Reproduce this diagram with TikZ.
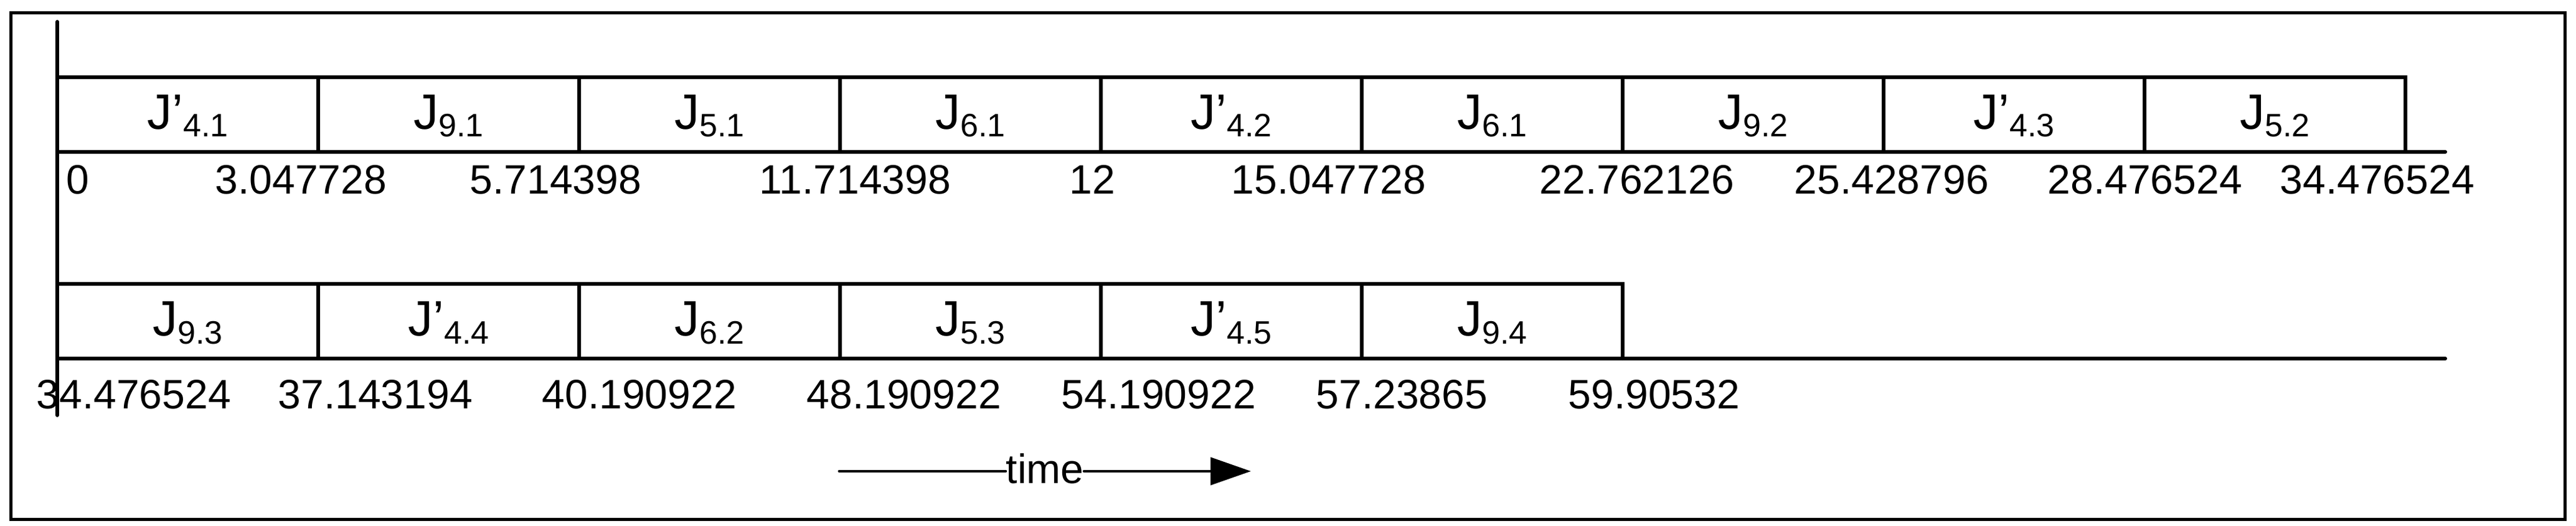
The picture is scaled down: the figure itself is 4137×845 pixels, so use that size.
\documentclass[tikz,border=0pt]{standalone}
\usepackage{fontspec}
\setmainfont{Liberation Sans}
\usetikzlibrary{arrows.meta}
\newcommand\sbx[1]{\raisebox{-3pt}{\fontsize{13pt}{13pt}\selectfont #1}}
\begin{document}
\begin{tikzpicture}[x=0.25pt,y=-0.25pt, line cap=round,
  gline/.style={line width=1.5pt},
  frameline/.style={line width=1.25pt},
  arrline/.style={line width=1.2pt},
  joblab/.style={anchor=base, inner sep=0pt, font=\fontsize{20pt}{24pt}\selectfont},
  numlab/.style={anchor=base west, inner sep=0pt, font=\fontsize{16.5pt}{20pt}\selectfont}]
\useasboundingbox (0,0) rectangle (4137,845);
% outer frame
\draw[frameline, line cap=butt] (17,21) rectangle (4119,834);
% vertical axis
\coordinate (axT) at (92,35);
\coordinate (axB) at (92,667);
\draw[gline] (axT) -- (axB);
% row 1
\draw[gline] (92,124) -- (3863,124) -- (3863,244);
\draw[gline] (92,244) -- (3927,244);
\foreach \k in {1,...,8} \draw[gline] ({92+419*\k},124) -- ({92+419*\k},244);
% row 2
\draw[gline] (92,456) -- (2606,456) -- (2606,576);
\draw[gline] (92,576) -- (3927,576);
\foreach \k in {1,...,5} \draw[gline] ({92+419*\k},456) -- ({92+419*\k},576);
% job labels row 1
\foreach \t [count=\k from 0] in {J’\sbx{4.1}, J\sbx{9.1}, J\sbx{5.1}, J\sbx{6.1}, J’\sbx{4.2}, J\sbx{6.1}, J\sbx{9.2}, J’\sbx{4.3}, J\sbx{5.2}}
  \node[joblab] (ra\k) at ({92+419*(\k+0.5)},208) {\t};
% job labels row 2
\foreach \t [count=\k from 0] in {J\sbx{9.3}, J’\sbx{4.4}, J\sbx{6.2}, J\sbx{5.3}, J’\sbx{4.5}, J\sbx{9.4}}
  \node[joblab] (rb\k) at ({92+419*(\k+0.5)},540) {\t};
% time stamps row 1
\foreach \x/\t [count=\k] in {106/0, 345/3.047728, 754/5.714398, 1219/11.714398, 1717/12, 1977/15.047728, 2472/22.762126, 2881/25.428796, 3288/28.476524, 3661/34.476524}
  \node[numlab] (na\k) at (\x,311) {\t};
% time stamps row 2
\foreach \x/\t [count=\k] in {58/34.476524, 446/37.143194, 870/40.190922, 1295/48.190922, 1704/54.190922, 2113/57.23865, 2518/59.90532}
  \node[numlab] (nb\k) at (\x,656) {\t};
% time arrow
\coordinate (ta) at (1348,757);
\coordinate (tb) at (2009,757);
\node[anchor=base, inner sep=0pt, font=\fontsize{16.5pt}{20pt}\selectfont] (time) at (1678,776) {time};
\draw[arrline] (ta) -- (ta -| time.west);
\draw[arrline, -{Triangle[length=16.25pt,width=11pt]}] (ta -| time.east) -- (tb);
\end{tikzpicture}
\end{document}
